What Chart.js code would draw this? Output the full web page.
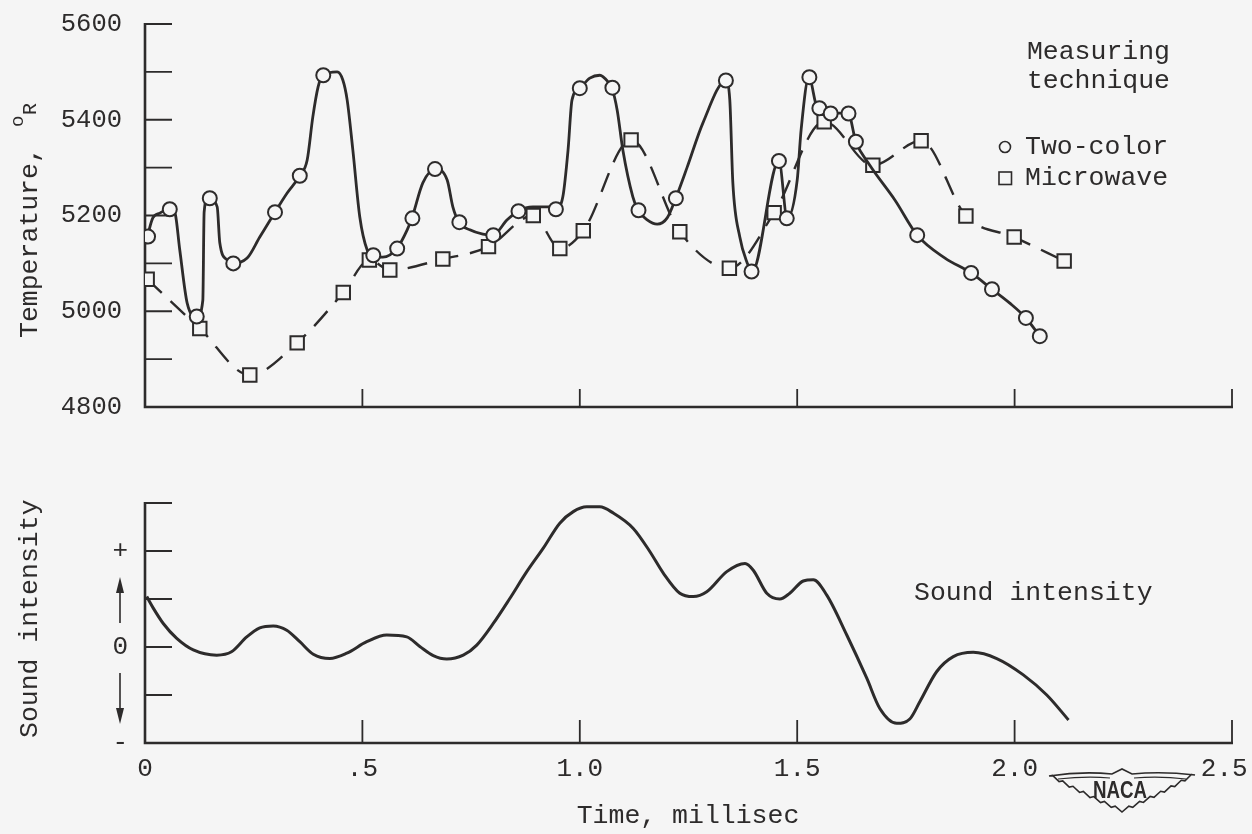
<!DOCTYPE html>
<html>
<head>
<meta charset="utf-8">
<script src="https://cdn.jsdelivr.net/npm/chart.js@4.4.1/dist/chart.umd.min.js"></script>
<style>
  html, body { margin: 0; padding: 0; background: #f5f5f5; width: 1252px; height: 834px; overflow: hidden; }
  #tempBox  { position: absolute; left: 0; top: 0;     width: 1300px; height: 440px; }
  #soundBox { position: absolute; left: 0; top: 470px; width: 1300px; height: 364px; }
</style>
</head>
<body>
<div id="tempBox"><canvas id="tempChart"></canvas></div>
<div id="soundBox"><canvas id="soundChart"></canvas></div>
<script>
// ---- Time axis (millisec) ----
const timeTickValues = [0, 0.5, 1.0, 1.5, 2.0, 2.5];
const timeTickLabels = ['0', '.5', '1.0', '1.5', '2.0', '2.5'];

// ---- Temperature axis (deg R) ----
const tempTickValues = [4800, 5000, 5200, 5400, 5600];
const tempTickLabels = ['4800', '5000', '5200', '5400', '5600'];

// ---- Sound-intensity axis (arbitrary units) ----
const soundTickValues = [-2, 0, 2];
const soundTickLabels = ['-', '0', '+'];

// Two-color pyrometer readings (circle symbols)
const twoColorTime = [0.007, 0.057, 0.119, 0.149, 0.203, 0.299, 0.356, 0.410, 0.525, 0.580,
                      0.615, 0.667, 0.723, 0.801, 0.859, 0.945, 1.000, 1.075, 1.135, 1.221,
                      1.336, 1.395, 1.458, 1.476, 1.528, 1.551, 1.577, 1.618, 1.635, 1.776,
                      1.900, 1.948, 2.026, 2.058];
const twoColorTemp = [5156, 5213, 4989, 5236, 5100, 5207, 5283, 5493, 5117, 5131,
                      5194, 5297, 5186, 5159, 5209, 5213, 5466, 5467, 5211, 5236,
                      5482, 5083, 5314, 5194, 5489, 5424, 5413, 5413, 5354, 5159,
                      5080, 5046, 4986, 4948];

// Faired curve drawn through the two-color readings
const fairedTime = [0.005, 0.018, 0.034, 0.057, 0.069, 0.080, 0.097, 0.120, 0.133, 0.136,
                    0.145, 0.166, 0.172, 0.189, 0.202, 0.235, 0.264, 0.299, 0.327, 0.356,
                    0.373, 0.386, 0.398, 0.409, 0.442, 0.455, 0.465, 0.478, 0.494, 0.511,
                    0.524, 0.547, 0.580, 0.603, 0.614, 0.639, 0.667, 0.695, 0.708, 0.722,
                    0.747, 0.777, 0.800, 0.833, 0.858, 0.892, 0.931, 0.945, 0.961, 0.973,
                    0.982, 1.000, 1.023, 1.046, 1.065, 1.074, 1.086, 1.099, 1.122, 1.134,
                    1.155, 1.178, 1.201, 1.221, 1.247, 1.283, 1.336, 1.345, 1.352, 1.368,
                    1.385, 1.396, 1.458, 1.477, 1.500, 1.509, 1.527, 1.546, 1.575, 1.617,
                    1.635, 1.667, 1.725, 1.776, 1.840, 1.900, 1.948, 1.989, 2.026, 2.058];
const fairedTemp = [5155, 5195, 5205, 5214, 5205, 5128, 5017, 4988, 5023, 5207,
                    5237, 5218, 5143, 5107, 5101, 5111, 5155, 5207, 5247, 5283,
                    5316, 5406, 5468, 5493, 5500, 5483, 5441, 5337, 5197, 5128,
                    5117, 5113, 5132, 5170, 5195, 5268, 5297, 5274, 5218, 5186,
                    5170, 5161, 5159, 5191, 5209, 5218, 5218, 5214, 5239, 5337,
                    5441, 5466, 5487, 5493, 5479, 5466, 5420, 5337, 5239, 5211,
                    5191, 5182, 5195, 5237, 5301, 5393, 5481, 5441, 5268, 5155,
                    5101, 5082, 5314, 5195, 5274, 5379, 5489, 5425, 5414, 5414,
                    5354, 5305, 5232, 5159, 5111, 5080, 5046, 5017, 4986, 4948];

// Microwave readings (square symbols)
const microwaveTime = [0.005, 0.126, 0.241, 0.350, 0.456, 0.516, 0.563, 0.685, 0.790, 0.893,
                       0.954, 1.008, 1.118, 1.230, 1.344, 1.447, 1.562, 1.674, 1.785, 1.888,
                       1.999, 2.114];
const microwaveTemp = [5067, 4964, 4867, 4934, 5039, 5107, 5086, 5109, 5135, 5200,
                       5131, 5168, 5358, 5166, 5090, 5206, 5396, 5305, 5356, 5199,
                       5155, 5105];

// Sound-intensity trace
const soundTime = [0.004, 0.019, 0.042, 0.073, 0.111, 0.165, 0.199, 0.234, 0.264, 0.295,
                   0.326, 0.356, 0.387, 0.425, 0.464, 0.510, 0.556, 0.602, 0.632, 0.663,
                   0.694, 0.732, 0.763, 0.801, 0.839, 0.878, 0.916, 0.954, 0.985, 1.016,
                   1.046, 1.077, 1.123, 1.161, 1.192, 1.230, 1.261, 1.292, 1.338, 1.380,
                   1.399, 1.430, 1.460, 1.483, 1.514, 1.537, 1.568, 1.614, 1.660, 1.690,
                   1.729, 1.759, 1.782, 1.821, 1.859, 1.905, 1.959, 2.020, 2.074, 2.124];
const soundLevel = [1.05, 0.81, 0.49, 0.18, -0.06, -0.17, -0.10, 0.21, 0.40, 0.44,
                    0.35, 0.11, -0.15, -0.24, -0.13, 0.11, 0.25, 0.21, 0.01, -0.18,
                    -0.25, -0.17, 0.04, 0.49, 1.01, 1.57, 2.06, 2.58, 2.82, 2.92,
                    2.92, 2.79, 2.47, 1.99, 1.54, 1.12, 1.05, 1.15, 1.57, 1.74,
                    1.60, 1.12, 1.00, 1.12, 1.375, 1.40, 1.08, 0.25, -0.65, -1.28,
                    -1.59, -1.50, -1.14, -0.51, -0.20, -0.11, -0.24, -0.58, -1.00, -1.52];

const INK = '#2d2b2b';
const PAPER = '#f5f5f5';
const MONO = "'Liberation Mono', 'DejaVu Sans Mono', monospace";

const pts = (xs, ys) => xs.map((x, i) => ({ x, y: ys[i] }));
const labelFor = (values, labels) => v => {
  const i = values.findIndex(u => Math.abs(u - v) < 1e-9);
  return i >= 0 ? labels[i] : '';
};

// Fixed-size axis boxes; tick labels may overhang the plot edges
const fixWidth = w => s => { s.width = w; s.paddingTop = 0; s.paddingBottom = 0; };
const fixHeight = h => s => { s.height = h; s.paddingLeft = 0; s.paddingRight = 0; };

// Axis lines plus tick marks pointing into the plot area
function makeFrame(id, xLen, yLen) {
  return {
    id,
    beforeDatasetsDraw(chart) {
      const { ctx, chartArea: a, scales: { x, y } } = chart;
      ctx.save();
      ctx.strokeStyle = INK;
      ctx.lineCap = 'butt';
      ctx.lineWidth = 2.6;
      ctx.beginPath();
      ctx.moveTo(a.left, a.top - 1);
      ctx.lineTo(a.left, a.bottom);
      ctx.lineTo(a.right + 1, a.bottom);
      ctx.stroke();
      ctx.lineWidth = 1.8;
      ctx.beginPath();
      x.ticks.forEach(t => {
        if (t.value === x.min) return;
        const px = x.getPixelForValue(t.value);
        ctx.moveTo(px, a.bottom);
        ctx.lineTo(px, a.bottom - xLen);
      });
      y.ticks.forEach(t => {
        if (t.value === y.min) return;
        const py = y.getPixelForValue(t.value);
        ctx.moveTo(a.left, py);
        ctx.lineTo(a.left + yLen, py);
      });
      ctx.stroke();
      ctx.restore();
    }
  };
}

function put(ctx, s, x, y, size, align) {
  ctx.font = size + 'px ' + MONO;
  ctx.textAlign = align || 'left';
  ctx.textBaseline = 'alphabetic';
  ctx.fillText(s, x, y);
}

// Axis title and legend of the temperature panel
const tempNotes = {
  id: 'tempNotes',
  afterDraw(chart) {
    const ctx = chart.ctx;
    ctx.save();
    ctx.fillStyle = INK;
    ctx.save();
    ctx.translate(37, 338);
    ctx.rotate(-Math.PI / 2);
    put(ctx, 'Temperature,', 0, 0, 26.5);
    put(ctx, 'o', 211, -14, 19);
    put(ctx, 'R', 223, -1, 20);
    ctx.restore();

    put(ctx, 'Measuring', 1170, 59, 26.5, 'right');
    put(ctx, 'technique', 1170, 88, 26.5, 'right');
    put(ctx, 'Two-color', 1025, 154, 26.5);
    put(ctx, 'Microwave', 1025, 185, 26.5);

    ctx.strokeStyle = INK;
    ctx.lineWidth = 1.6;
    ctx.beginPath();
    ctx.arc(1005, 147, 5.5, 0, Math.PI * 2);
    ctx.stroke();
    ctx.strokeRect(999, 172, 12.5, 12.5);
    ctx.restore();
  }
};

// NACA wing emblem next to the last time label
function drawEmblem(ctx) {
  ctx.save();
  ctx.strokeStyle = INK;
  ctx.fillStyle = PAPER;
  ctx.lineWidth = 1.6;
  ctx.lineJoin = 'miter';
  const cx = 1122;
  const bez = (p0, p1, p2, t) => (1 - t) * (1 - t) * p0 + 2 * (1 - t) * t * p1 + t * t * p2;
  ctx.beginPath();
  ctx.moveTo(1049, 776);
  ctx.quadraticCurveTo(1082, 771, 1112, 774);
  ctx.lineTo(cx, 769);
  ctx.lineTo(1132, 774);
  ctx.quadraticCurveTo(1162, 771, 1195, 775);
  const n = 14;
  for (let i = 1; i <= n; i++) {
    const t = i / n;
    const px = bez(1195, 1160, cx, t);
    const py = bez(775, 796, 812, t);
    const off = (i % 2 === 0) ? 0 : 3.5;
    ctx.lineTo(px + off * 0.4, py - off);
  }
  for (let i = n - 1; i >= 0; i--) {
    const t = i / n;
    const px = bez(1049, 1084, cx, t);
    const py = bez(776, 796, 812, t);
    const off = (i % 2 === 0) ? 0 : 3.5;
    ctx.lineTo(px - off * 0.4, py - off);
  }
  ctx.closePath();
  ctx.fill();
  ctx.stroke();
  ctx.lineWidth = 1.2;
  ctx.beginPath();
  ctx.moveTo(1058, 779);
  ctx.quadraticCurveTo(1086, 776, 1110, 778);
  ctx.moveTo(1134, 778);
  ctx.quadraticCurveTo(1160, 776, 1186, 779);
  ctx.stroke();
  ctx.fillStyle = INK;
  ctx.translate(cx - 2, 791);
  ctx.scale(0.78, 1);
  ctx.font = "bold 24px 'Liberation Sans', Arial, sans-serif";
  ctx.textAlign = 'center';
  ctx.textBaseline = 'middle';
  ctx.fillText('NACA', 0, 0);
  ctx.restore();
}

// Titles, direction arrows and emblem of the sound panel
const soundNotes = {
  id: 'soundNotes',
  afterDraw(chart) {
    const ctx = chart.ctx;
    const oy = 470;
    ctx.save();
    ctx.fillStyle = INK;
    ctx.save();
    ctx.translate(37, 738 - oy);
    ctx.rotate(-Math.PI / 2);
    put(ctx, 'Sound intensity', 0, 0, 26.5);
    ctx.restore();

    put(ctx, 'Sound intensity', 914, 600 - oy, 26.5);
    put(ctx, 'Time, millisec', 688, 823 - oy, 26.5, 'center');

    ctx.strokeStyle = INK;
    ctx.lineWidth = 1.6;
    const ax = 120;
    ctx.beginPath();
    ctx.moveTo(ax, 623 - oy); ctx.lineTo(ax, 588 - oy);
    ctx.moveTo(ax, 673 - oy); ctx.lineTo(ax, 712 - oy);
    ctx.stroke();
    ctx.beginPath();
    ctx.moveTo(ax, 577 - oy); ctx.lineTo(ax - 4, 593 - oy); ctx.lineTo(ax + 4, 593 - oy); ctx.closePath();
    ctx.moveTo(ax, 724 - oy); ctx.lineTo(ax - 4, 708 - oy); ctx.lineTo(ax + 4, 708 - oy); ctx.closePath();
    ctx.fill();

    ctx.translate(0, -oy);
    drawEmblem(ctx);
    ctx.restore();
  }
};

Chart.defaults.font.family = MONO;
Chart.defaults.color = INK;

// The last time label sits a little left of its tick so it clears the page edge
const timeLabel = labelFor(timeTickValues, timeTickLabels);
const timeLabelShifted = v => {
  const s = timeLabel(v);
  return v === timeTickValues[timeTickValues.length - 1] ? s + ' ' : s;
};

new Chart(document.getElementById('tempChart'), {
  type: 'scatter',
  data: {
    datasets: [
      {
        label: 'Two-color',
        data: pts(twoColorTime, twoColorTemp),
        showLine: false,
        pointStyle: 'circle',
        pointRadius: 7,
        pointBorderWidth: 2,
        pointBorderColor: INK,
        pointBackgroundColor: PAPER
      },
      {
        label: 'Two-color (faired)',
        data: pts(fairedTime, fairedTemp),
        showLine: true,
        pointRadius: 0,
        borderColor: INK,
        borderWidth: 2.8,
        cubicInterpolationMode: 'monotone'
      },
      {
        label: 'Microwave',
        data: pts(microwaveTime, microwaveTemp),
        showLine: true,
        borderColor: INK,
        borderWidth: 2.4,
        borderDash: [20, 12],
        cubicInterpolationMode: 'monotone',
        pointStyle: 'rect',
        pointRadius: 9.5,
        pointBorderWidth: 2,
        pointBorderColor: INK,
        pointBackgroundColor: PAPER
      }
    ]
  },
  options: {
    responsive: true,
    maintainAspectRatio: false,
    animation: false,
    events: [],
    layout: { padding: { top: 24, right: 68, bottom: 0, left: 0 } },
    plugins: { legend: { display: false }, tooltip: { enabled: false } },
    scales: {
      x: {
        type: 'linear', min: 0, max: 2.5,
        ticks: { stepSize: 0.5, display: false },
        grid: { display: false, drawTicks: false },
        border: { display: false },
        afterFit: fixHeight(33)
      },
      y: {
        min: 4800, max: 5600,
        ticks: {
          stepSize: 100, padding: 23, color: INK,
          font: { family: MONO, size: 25.5 },
          callback: labelFor(tempTickValues, tempTickLabels)
        },
        grid: { display: false, drawTicks: false },
        border: { display: false },
        afterFit: fixWidth(145)
      }
    }
  },
  plugins: [makeFrame('tempFrame', 18, 27), tempNotes]
});

new Chart(document.getElementById('soundChart'), {
  type: 'scatter',
  data: {
    datasets: [
      {
        label: 'Sound intensity',
        data: pts(soundTime, soundLevel),
        showLine: true,
        pointRadius: 0,
        borderColor: INK,
        borderWidth: 3,
        cubicInterpolationMode: 'monotone'
      }
    ]
  },
  options: {
    responsive: true,
    maintainAspectRatio: false,
    animation: false,
    events: [],
    layout: { padding: { top: 33, right: 68, bottom: 0, left: 0 } },
    plugins: { legend: { display: false }, tooltip: { enabled: false } },
    scales: {
      x: {
        type: 'linear', min: 0, max: 2.5,
        ticks: {
          stepSize: 0.5, padding: 11, color: INK, maxRotation: 0, autoSkip: false,
          font: { family: MONO, size: 26 },
          callback: timeLabelShifted
        },
        grid: { display: false, drawTicks: false },
        border: { display: false },
        afterFit: fixHeight(91)
      },
      y: {
        min: -2, max: 3,
        ticks: {
          stepSize: 1, padding: 17, color: INK,
          font: { family: MONO, size: 26 },
          callback: labelFor(soundTickValues, soundTickLabels)
        },
        grid: { display: false, drawTicks: false },
        border: { display: false },
        afterFit: fixWidth(145)
      }
    }
  },
  plugins: [makeFrame('soundFrame', 23, 27), soundNotes]
});
</script>
</body>
</html>
